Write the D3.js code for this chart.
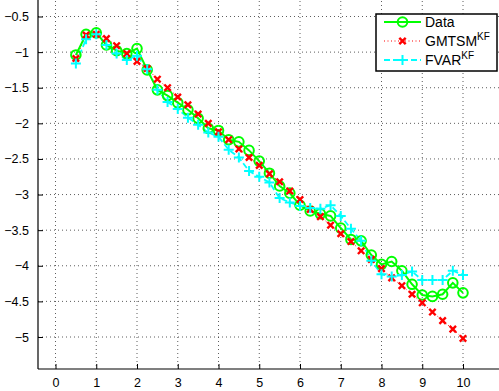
<!DOCTYPE html>
<html>
<head>
<meta charset="utf-8">
<script src="https://cdn.jsdelivr.net/npm/d3@7"></script>
<style>
  html, body { margin: 0; padding: 0; background: #fff; }
  svg { display: block; font-family: "Liberation Sans", Arial, sans-serif; }
</style>
</head>
<body>
<svg id="chart" width="499" height="391"></svg>
<script>
// Maturity (years), quarterly from 0.5 to 10
const maturities = [0.5, 0.75, 1, 1.25, 1.5, 1.75, 2, 2.25, 2.5, 2.75, 3, 3.25, 3.5, 3.75,
  4, 4.25, 4.5, 4.75, 5, 5.25, 5.5, 5.75, 6, 6.25, 6.5, 6.75, 7, 7.25, 7.5, 7.75,
  8, 8.25, 8.5, 8.75, 9, 9.25, 9.5, 9.75, 10];

const dataValues = [-1.04, -0.75, -0.73, -0.90, -0.98, -1.02, -0.95, -1.25, -1.53, -1.61,
  -1.71, -1.81, -1.93, -2.07, -2.10, -2.23, -2.26, -2.38, -2.53, -2.70,
  -2.88, -2.98, -3.15, -3.23, -3.27, -3.30, -3.47, -3.63, -3.65, -3.85,
  -3.98, -3.94, -4.07, -4.26, -4.41, -4.43, -4.40, -4.24, -4.38];

const gmtsmValues = [-1.09, -0.76, -0.75, -0.81, -0.91, -1.02, -1.13, -1.23, -1.38, -1.50,
  -1.63, -1.74, -1.87, -2.00, -2.12, -2.23, -2.36, -2.48, -2.59, -2.71,
  -2.82, -2.95, -3.07, -3.21, -3.31, -3.43, -3.55, -3.66, -3.79, -3.91,
  -4.04, -4.17, -4.28, -4.40, -4.52, -4.65, -4.77, -4.89, -5.02];

const fvarValues = [-1.16, -0.82, -0.75, -0.90, -1.02, -1.11, -1.05, -1.24, -1.53, -1.70,
  -1.80, -1.92, -2.02, -2.13, -2.19, -2.37, -2.48, -2.67, -2.75, -2.83,
  -3.05, -3.11, -3.16, -3.19, -3.20, -3.15, -3.30, -3.48, -3.65, -3.93,
  -4.12, -4.15, -4.13, -4.08, -4.20, -4.20, -4.20, -4.07, -4.13];

const xTicks = [0, 1, 2, 3, 4, 5, 6, 7, 8, 9, 10];
const yTicks = [-0.5, -1, -1.5, -2, -2.5, -3, -3.5, -4, -4.5, -5];

const svg = d3.select("#chart");

// Plot box (top and right edges run past the canvas)
const box = { left: 38, right: 502, top: -3, bottom: 369 };

const x = d3.scaleLinear().domain([0, 10]).range([55.5, 463]);
const y = d3.scaleLinear().domain([-0.5, -5]).range([16.5, 337]);

const fmt = v => String(v).replace("-", "\u2212");

// Dotted grid
const grid = svg.append("g");
grid.selectAll("line.vx").data(xTicks).join("line")
  .attr("x1", d => x(d)).attr("x2", d => x(d))
  .attr("y1", box.top).attr("y2", box.bottom)
  .attr("stroke", "#333").attr("stroke-width", 0.8)
  .attr("stroke-dasharray", "1,3");
grid.selectAll("line.hy").data(yTicks).join("line")
  .attr("x1", box.left).attr("x2", box.right)
  .attr("y1", d => y(d)).attr("y2", d => y(d))
  .attr("stroke", "#333").attr("stroke-width", 0.8)
  .attr("stroke-dasharray", "1,3");

// Axes
const xAxis = d3.axisBottom(x).tickValues(xTicks).tickSize(-5).tickPadding(9).tickFormat(fmt);
const yAxis = d3.axisLeft(y).tickValues(yTicks).tickSize(-5).tickPadding(9).tickFormat(fmt);

const gx = svg.append("g").attr("transform", `translate(0,${box.bottom})`).call(xAxis);
const gy = svg.append("g").attr("transform", `translate(${box.left},0)`).call(yAxis);
[gx, gy].forEach(g => {
  g.select(".domain").remove();
  g.selectAll(".tick line").attr("stroke", "#000").attr("stroke-width", 1);
  g.selectAll(".tick text").attr("fill", "#000").attr("font-size", 12.5)
    .attr("font-family", "Liberation Sans, Arial, sans-serif");
});
svg.append("line").attr("x1", box.left).attr("x2", box.right)
  .attr("y1", box.bottom).attr("y2", box.bottom).attr("stroke", "#000").attr("stroke-width", 1.2);
svg.append("line").attr("x1", box.left).attr("x2", box.left)
  .attr("y1", box.top).attr("y2", box.bottom).attr("stroke", "#000").attr("stroke-width", 1.2);

const GREEN = "#00ff00", RED = "#ff0000", CYAN = "#00ffff";

function series(values) { return maturities.map((m, i) => [m, values[i]]); }
const line = d3.line().x(d => x(d[0])).y(d => y(d[1]));

const plot = svg.append("g");

// GMTSM: dotted red line with x markers
plot.append("path").datum(series(gmtsmValues)).attr("d", line)
  .attr("fill", "none").attr("stroke", RED).attr("stroke-width", 1)
  .attr("stroke-dasharray", "1,2.5");
// FVAR: dashed cyan line with + markers
plot.append("path").datum(series(fvarValues)).attr("d", line)
  .attr("fill", "none").attr("stroke", CYAN).attr("stroke-width", 1.8)
  .attr("stroke-dasharray", "6,3");
// Data: solid green line with open circles
plot.append("path").datum(series(dataValues)).attr("d", line)
  .attr("fill", "none").attr("stroke", GREEN).attr("stroke-width", 2);

function drawCross(g, cx, cy, s, color, w) {
  g.append("path").attr("d", `M${cx - s},${cy - s}L${cx + s},${cy + s}M${cx - s},${cy + s}L${cx + s},${cy - s}`)
    .attr("stroke", color).attr("stroke-width", w).attr("fill", "none");
}
function drawPlus(g, cx, cy, s, color, w) {
  g.append("path").attr("d", `M${cx - s},${cy}L${cx + s},${cy}M${cx},${cy - s}L${cx},${cy + s}`)
    .attr("stroke", color).attr("stroke-width", w).attr("fill", "none");
}
function drawCircle(g, cx, cy, r, color, w) {
  g.append("circle").attr("cx", cx).attr("cy", cy).attr("r", r)
    .attr("fill", "none").attr("stroke", color).attr("stroke-width", w);
}

series(dataValues).forEach(d => drawCircle(plot, x(d[0]), y(d[1]), 4.8, GREEN, 2));
series(gmtsmValues).forEach(d => drawCross(plot, x(d[0]), y(d[1]), 3.2, RED, 2.4));
series(fvarValues).forEach(d => drawPlus(plot, x(d[0]), y(d[1]), 5, CYAN, 2));

// Legend
const leg = svg.append("g");
leg.append("rect").attr("x", 376).attr("y", 14).attr("width", 121).attr("height", 57)
  .attr("fill", "#fff").attr("stroke", "#000").attr("stroke-width", 1.5);

const entries = [
  { name: "Data", sup: "", color: GREEN, dash: null, w: 2, mark: drawCircle, size: 4.8 },
  { name: "GMTSM", sup: "KF", color: RED, dash: "1,2.5", w: 1, mark: drawCross, size: 3.2 },
  { name: "FVAR", sup: "KF", color: CYAN, dash: "6,3", w: 1.8, mark: drawPlus, size: 5 }
];
entries.forEach((e, i) => {
  const cy = 22 + i * 19;
  leg.append("line").attr("x1", 384).attr("x2", 421).attr("y1", cy).attr("y2", cy)
    .attr("stroke", e.color).attr("stroke-width", e.w)
    .attr("stroke-dasharray", e.dash);
  const mw = e.mark === drawCross ? 2.4 : 2;
  e.mark(leg, 402.5, cy, e.size, e.color, mw);
  const t = leg.append("text").attr("x", 425).attr("y", cy + 5)
    .attr("font-size", 14).attr("fill", "#000").text(e.name);
  if (e.sup) {
    t.append("tspan").attr("dy", -6).attr("font-size", 10).text(e.sup);
  }
});
</script>
</body>
</html>
